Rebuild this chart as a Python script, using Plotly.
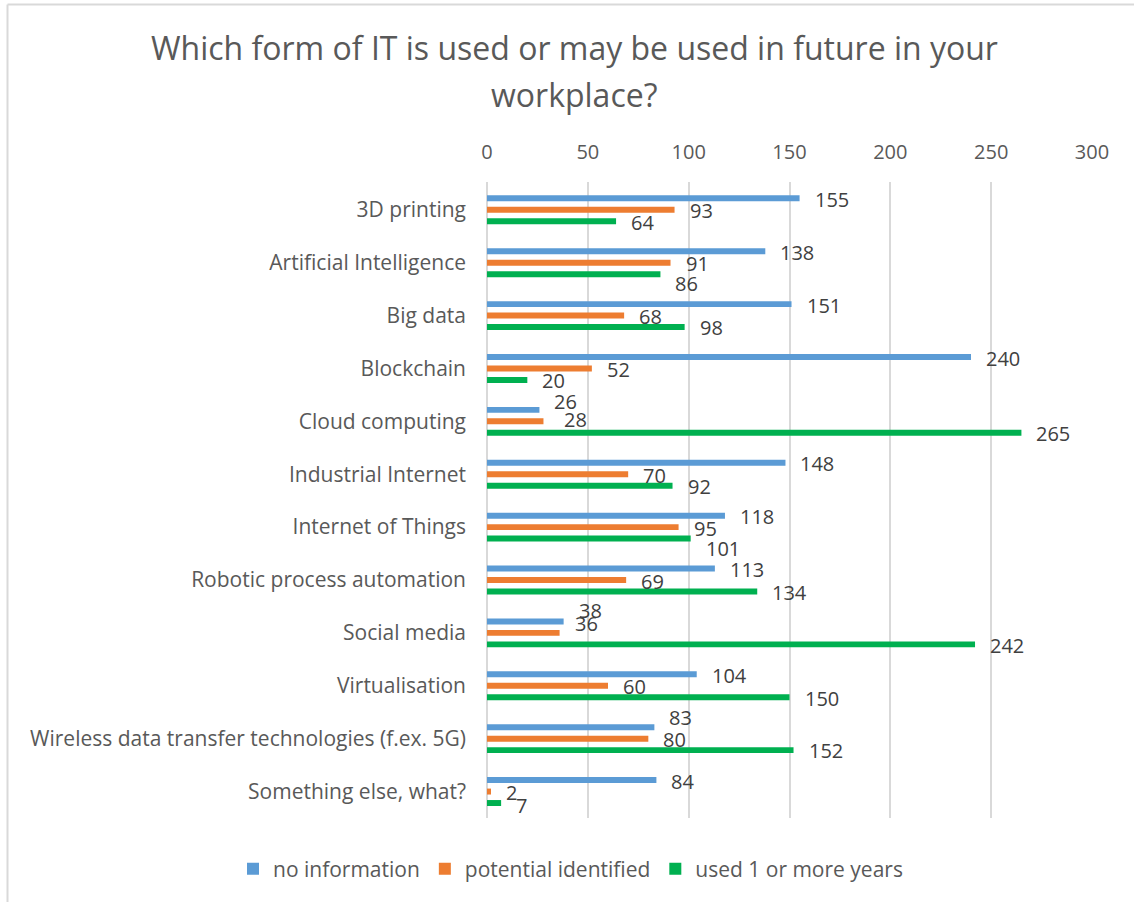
import plotly.graph_objects as go

# Survey answers per technology
categories = [
    "3D printing",
    "Artificial Intelligence",
    "Big data",
    "Blockchain",
    "Cloud computing",
    "Industrial Internet",
    "Internet of Things",
    "Robotic process automation",
    "Social media",
    "Virtualisation",
    "Wireless data transfer technologies (f.ex. 5G)",
    "Something else, what?",
]
no_information = [155, 138, 151, 240, 26, 148, 118, 113, 38, 104, 83, 84]
potential_identified = [93, 91, 68, 52, 28, 70, 95, 69, 36, 60, 80, 2]
used_1_or_more_years = [64, 86, 98, 20, 265, 92, 101, 134, 242, 150, 152, 7]

x_ticks = [0, 50, 100, 150, 200, 250, 300]

series = [
    ("no information", no_information, "#5B9BD5"),
    ("potential identified", potential_identified, "#ED7D31"),
    ("used 1 or more years", used_1_or_more_years, "#00B050"),
]

# Hand-placed label nudges (series index, category index) -> (dx, dy) in px,
# dy positive moves the label down, to keep crowded labels apart
label_nudge = {
    (2, 1): (0, 9),
    (0, 4): (0, -10),
    (1, 4): (6, -3),
    (2, 6): (0, 9),
    (0, 8): (0, -12),
    (1, 8): (0, -10),
    (0, 10): (0, -11),
    (2, 11): (0, 2),
}

W, H = 1134, 902
ML, MR, MT, MB = 487, 42, 182, 84
PW, PH = W - ML - MR, H - MT - MB

FONT = "Open Sans, Liberation Sans, Arial, sans-serif"
TEXT = "#595959"
LABEL = "#404040"
GRID = "#D9D9D9"


def px_x(px):
    return (px - ML) / PW


def px_y(py):
    return (H - MB - py) / PH


fig = go.Figure()
for name, values, color in series:
    fig.add_trace(go.Bar(
        y=categories, x=values, name=name, orientation="h",
        marker=dict(color=color, line=dict(width=0)),
    ))

# Value labels just past the end of each bar
shifts = [11.3, 0.0, -11.3]
annotations = []
for si, ((name, values, color), dy) in enumerate(zip(series, shifts)):
    for ci, (cat, v) in enumerate(zip(categories, values)):
        ndx, ndy = label_nudge.get((si, ci), (0, 0))
        annotations.append(dict(
            x=v, y=cat, xref="x", yref="y", text=str(v), showarrow=False,
            xanchor="left", yanchor="middle",
            xshift=13 + ndx, yshift=dy - 1 - ndy,
            font=dict(family=FONT, size=20, color=LABEL),
        ))

# Two-line chart title
annotations.append(dict(
    x=px_x(574), y=px_y(47), xref="paper", yref="paper", showarrow=False,
    text="Which form of IT is used or may be used in future in your",
    xanchor="center", yanchor="middle",
    font=dict(family=FONT, size=32, color=TEXT),
))
annotations.append(dict(
    x=px_x(574), y=px_y(95), xref="paper", yref="paper", showarrow=False,
    text="workplace?", xanchor="center", yanchor="middle",
    font=dict(family=FONT, size=32, color=TEXT),
))

# Chart frame (left and top edges)
shapes = [
    dict(type="line", xref="paper", yref="paper",
         x0=px_x(7.5), x1=px_x(7.5), y0=px_y(4.5), y1=px_y(H + 5),
         line=dict(color=GRID, width=2)),
    dict(type="line", xref="paper", yref="paper",
         x0=px_x(7.5), x1=px_x(W + 5), y0=px_y(4.5), y1=px_y(4.5),
         line=dict(color=GRID, width=2)),
]

fig.update_layout(
    width=W, height=H,
    margin=dict(l=ML, r=MR, t=MT, b=MB, pad=0, autoexpand=False),
    paper_bgcolor="white", plot_bgcolor="white",
    barmode="group", bargap=0.35, bargroupgap=0.48,
    font=dict(family=FONT, color=TEXT),
    showlegend=True,
    legend=dict(
        orientation="h", x=px_x(233), y=px_y(869),
        xanchor="left", yanchor="middle",
        font=dict(family=FONT, size=21, color=TEXT),
        itemwidth=30, traceorder="normal",
    ),
    annotations=annotations,
    shapes=shapes,
    xaxis=dict(
        side="top", range=[0, 300], tickvals=x_ticks,
        showgrid=True, gridcolor=GRID, gridwidth=2,
        zeroline=True, zerolinecolor=GRID, zerolinewidth=2,
        showline=False, ticks="", ticklabelstandoff=18,
        tickfont=dict(family=FONT, size=20, color=TEXT),
        fixedrange=True,
    ),
    yaxis=dict(
        categoryorder="array", categoryarray=categories,
        autorange="reversed", showgrid=False, zeroline=False,
        showline=False, ticks="", ticklabelstandoff=20,
        tickfont=dict(family=FONT, size=21, color=TEXT),
        fixedrange=True,
    ),
)

fig.write_html("out.html")
